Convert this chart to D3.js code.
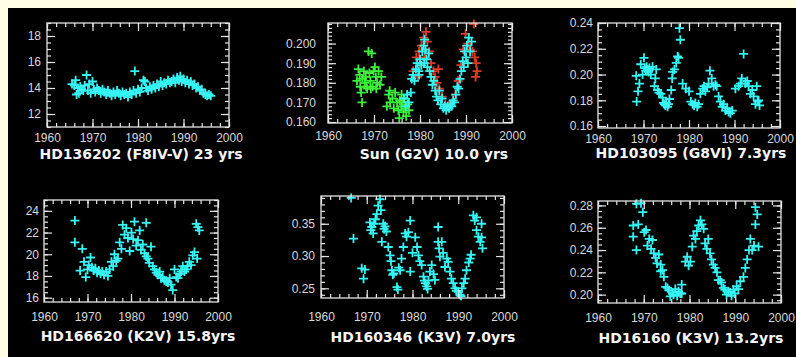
<!DOCTYPE html>
<html>
<head>
<meta charset="utf-8">
<script src="https://cdn.jsdelivr.net/npm/d3@7"></script>
<style>
  body { margin: 0; background: #fffde3; }
  svg { display: block; }
</style>
</head>
<body>
<script>
// x axis is the same for every star
var xTicks = [1960, 1970, 1980, 1990, 2000];

// [year, value]
var hd136202 = [[1965.5,14.3],[1966.0,14.2],[1966.3,14.6],[1966.5,13.5],[1966.8,14.0],[1967.0,13.6],[1967.3,14.1],[1967.6,13.9],[1968.0,13.8],[1968.3,14.2],[1968.7,15.0],[1969.0,13.8],[1969.3,14.3],[1969.6,13.6],[1970.0,14.5],[1970.3,13.9],[1970.6,13.7],[1971.0,14.0],[1971.4,13.8],[1971.8,13.6],[1972.2,13.9],[1972.6,13.7],[1973.0,13.5],[1973.4,13.8],[1973.8,13.6],[1974.2,13.4],[1974.6,13.7],[1975.0,13.5],[1975.4,13.8],[1975.8,13.6],[1976.2,13.4],[1976.6,13.7],[1977.0,13.5],[1977.4,13.6],[1977.8,13.3],[1978.2,13.7],[1978.6,13.5],[1979.0,13.8],[1979.3,15.3],[1979.6,13.6],[1980.0,13.9],[1980.4,13.7],[1980.8,14.0],[1981.2,14.6],[1981.5,14.5],[1981.8,14.0],[1982.2,13.8],[1982.6,14.1],[1983.0,13.9],[1983.4,14.2],[1983.8,14.0],[1984.2,14.3],[1984.6,14.1],[1985.0,14.5],[1985.4,14.2],[1985.8,14.4],[1986.2,14.3],[1986.6,14.6],[1987.0,14.4],[1987.4,14.5],[1987.8,14.7],[1988.2,14.4],[1988.6,14.8],[1989.0,14.6],[1989.3,14.9],[1989.6,14.5],[1990.0,14.7],[1990.4,14.4],[1990.8,14.6],[1991.2,14.3],[1991.6,14.5],[1992.0,14.2],[1992.4,14.3],[1992.8,14.0],[1993.2,14.1],[1993.6,13.8],[1994.0,13.9],[1994.4,13.6],[1994.8,13.5],[1995.2,13.4],[1995.6,13.5],[1996.0,13.4]];

var sunRed = [[1978.5,0.186],[1979.2,0.193],[1979.5,0.183],[1979.8,0.196],[1980.0,0.190],[1980.3,0.199],[1980.8,0.203],[1981.0,0.193],[1981.3,0.206],[1981.6,0.201],[1982.0,0.196],[1982.4,0.190],[1982.9,0.186],[1983.3,0.183],[1983.7,0.180],[1984.0,0.187],[1984.2,0.177],[1984.8,0.173],[1985.5,0.169],[1986.2,0.168],[1987.0,0.170],[1987.7,0.174],[1988.3,0.181],[1988.9,0.189],[1989.4,0.197],[1989.9,0.205],[1990.4,0.200],[1990.9,0.197],[1991.4,0.196],[1991.7,0.210],[1991.9,0.193],[1992.2,0.190],[1992.4,0.186],[1992.1,0.183]];

var sunGreen = [[1966.3,0.181],[1966.6,0.187],[1966.9,0.184],[1967.0,0.178],[1967.2,0.175],[1967.4,0.170],[1967.5,0.182],[1967.8,0.186],[1968.0,0.180],[1968.2,0.183],[1968.3,0.178],[1968.5,0.177],[1968.8,0.196],[1969.0,0.185],[1969.2,0.181],[1969.3,0.177],[1969.5,0.195],[1969.7,0.178],[1969.9,0.186],[1970.2,0.188],[1970.4,0.183],[1970.5,0.177],[1970.7,0.180],[1971.0,0.186],[1971.3,0.179],[1971.6,0.183],[1972.8,0.168],[1973.2,0.174],[1973.4,0.176],[1973.5,0.170],[1974.0,0.172],[1974.3,0.167],[1974.6,0.175],[1975.0,0.170],[1975.3,0.166],[1975.5,0.162],[1975.6,0.171],[1975.9,0.168],[1976.0,0.174],[1976.2,0.170],[1976.4,0.165],[1976.6,0.172],[1976.8,0.167],[1977.0,0.163],[1977.3,0.169],[1977.6,0.166]];

var sunCyan = [[1976.5,0.172],[1976.9,0.168],[1977.2,0.174],[1977.6,0.170],[1978.0,0.175],[1978.2,0.182],[1978.5,0.184],[1978.8,0.181],[1979.1,0.187],[1979.4,0.190],[1979.7,0.186],[1979.8,0.184],[1980.0,0.192],[1980.3,0.189],[1980.5,0.196],[1980.8,0.199],[1980.9,0.190],[1981.0,0.202],[1981.2,0.197],[1981.4,0.192],[1981.6,0.188],[1981.9,0.195],[1982.1,0.186],[1982.4,0.183],[1982.7,0.179],[1983.0,0.181],[1983.3,0.176],[1983.6,0.173],[1983.9,0.171],[1984.2,0.176],[1984.5,0.169],[1984.8,0.172],[1985.1,0.167],[1985.4,0.168],[1985.7,0.166],[1986.0,0.168],[1986.3,0.167],[1986.6,0.169],[1986.9,0.168],[1987.2,0.171],[1987.5,0.170],[1987.8,0.174],[1988.1,0.178],[1988.4,0.177],[1988.7,0.182],[1989.0,0.186],[1989.3,0.191],[1989.5,0.188],[1989.7,0.196],[1990.0,0.193],[1990.2,0.199],[1990.4,0.190],[1990.6,0.203],[1990.9,0.196],[1991.2,0.201]];

var hd103095 = [[1968.5,0.179],[1968.4,0.199],[1968.8,0.187],[1969.1,0.193],[1969.4,0.208],[1969.8,0.200],[1970.1,0.213],[1970.3,0.205],[1970.5,0.203],[1970.7,0.206],[1970.9,0.204],[1971.1,0.202],[1971.3,0.205],[1971.6,0.200],[1972.0,0.206],[1972.4,0.191],[1972.6,0.197],[1972.8,0.204],[1973.1,0.188],[1973.4,0.186],[1973.8,0.185],[1974.2,0.182],[1974.4,0.178],[1974.6,0.177],[1974.8,0.176],[1975.0,0.178],[1975.3,0.175],[1975.5,0.177],[1975.7,0.181],[1976.1,0.188],[1976.3,0.197],[1976.4,0.202],[1976.8,0.204],[1977.2,0.209],[1977.5,0.214],[1977.7,0.213],[1977.9,0.236],[1978.1,0.227],[1978.6,0.193],[1979.3,0.189],[1980.0,0.187],[1980.4,0.179],[1980.8,0.177],[1981.1,0.176],[1981.4,0.178],[1981.8,0.175],[1982.1,0.177],[1982.5,0.185],[1983.0,0.189],[1983.3,0.191],[1983.6,0.187],[1984.0,0.190],[1984.3,0.193],[1984.6,0.203],[1985.0,0.197],[1985.4,0.191],[1985.8,0.192],[1986.1,0.191],[1986.5,0.183],[1986.9,0.179],[1987.3,0.175],[1987.6,0.177],[1988.0,0.172],[1988.4,0.174],[1988.7,0.171],[1989.1,0.170],[1989.5,0.172],[1990.2,0.189],[1990.9,0.191],[1991.3,0.193],[1991.6,0.197],[1992.0,0.216],[1992.4,0.193],[1992.8,0.195],[1993.1,0.191],[1993.5,0.185],[1993.9,0.188],[1994.2,0.183],[1994.6,0.177],[1994.9,0.191],[1995.1,0.179],[1995.3,0.180],[1995.5,0.176]];

var hd166620 = [[1967.1,23.1],[1967.1,21.1],[1968.3,18.5],[1968.8,20.5],[1969.2,19.3],[1969.6,17.9],[1970.0,18.6],[1970.3,19.0],[1970.7,19.7],[1971.0,18.8],[1971.4,18.5],[1971.8,18.7],[1972.2,18.3],[1972.6,18.5],[1973.0,18.2],[1973.4,18.4],[1973.8,18.1],[1974.3,18.4],[1974.7,18.0],[1975.1,18.6],[1975.5,19.3],[1975.9,18.9],[1976.2,20.0],[1976.6,19.4],[1977.0,19.6],[1977.4,21.1],[1977.8,20.5],[1978.1,22.7],[1978.5,21.8],[1978.9,22.4],[1979.3,21.5],[1979.7,20.3],[1980.1,22.0],[1980.5,21.4],[1980.8,23.0],[1981.2,20.8],[1981.6,21.3],[1982.0,22.2],[1982.3,20.4],[1982.7,20.9],[1983.1,20.1],[1983.5,22.9],[1983.5,19.8],[1983.9,19.6],[1984.2,19.2],[1984.6,20.7],[1985.0,18.9],[1985.4,18.6],[1985.8,18.3],[1986.2,18.1],[1986.6,18.4],[1986.9,17.8],[1987.3,17.9],[1987.7,17.6],[1988.1,17.5],[1988.5,17.4],[1988.9,17.8],[1989.2,17.2],[1989.6,16.7],[1990.0,18.6],[1990.4,17.9],[1990.8,17.8],[1991.2,18.2],[1991.5,18.4],[1991.9,18.9],[1992.3,18.4],[1992.7,18.6],[1993.0,18.9],[1993.4,19.3],[1993.8,19.0],[1994.2,19.9],[1994.6,20.2],[1995.0,22.8],[1995.2,19.6],[1995.4,22.5],[1995.7,22.2]];

var hd160346 = [[1966.6,0.390],[1967.1,0.327],[1968.9,0.281],[1969.3,0.265],[1969.6,0.279],[1970.7,0.352],[1970.9,0.340],[1971.1,0.345],[1971.4,0.335],[1971.6,0.350],[1971.9,0.357],[1972.2,0.365],[1972.5,0.378],[1972.9,0.388],[1973.1,0.371],[1973.3,0.322],[1973.6,0.350],[1973.8,0.342],[1974.0,0.346],[1974.3,0.338],[1974.7,0.314],[1975.1,0.301],[1975.3,0.292],[1975.5,0.278],[1975.7,0.271],[1975.9,0.273],[1976.6,0.252],[1976.8,0.248],[1977.0,0.282],[1977.3,0.278],[1977.6,0.296],[1978.0,0.314],[1978.4,0.335],[1978.7,0.330],[1979.1,0.337],[1979.5,0.355],[1979.5,0.276],[1980.0,0.305],[1980.6,0.329],[1981.0,0.314],[1981.3,0.301],[1981.6,0.292],[1982.0,0.286],[1982.4,0.268],[1982.6,0.262],[1982.8,0.258],[1983.1,0.253],[1983.3,0.249],[1983.5,0.262],[1983.8,0.276],[1984.2,0.286],[1984.6,0.272],[1984.9,0.263],[1985.6,0.345],[1985.6,0.322],[1985.8,0.312],[1986.0,0.299],[1986.4,0.322],[1986.7,0.305],[1987.1,0.283],[1987.5,0.296],[1987.8,0.291],[1988.2,0.276],[1988.5,0.265],[1988.9,0.258],[1989.3,0.250],[1989.6,0.246],[1990.0,0.245],[1990.4,0.240],[1990.6,0.238],[1990.8,0.250],[1991.2,0.258],[1991.5,0.265],[1991.8,0.278],[1992.3,0.290],[1992.6,0.296],[1992.8,0.302],[1993.3,0.363],[1993.6,0.355],[1994.0,0.360],[1994.0,0.340],[1994.4,0.330],[1994.8,0.322],[1995.1,0.329],[1995.1,0.350],[1995.3,0.312]];

var hd16160 = [[1967.7,0.262],[1967.7,0.252],[1968.4,0.240],[1968.8,0.263],[1968.4,0.2815],[1969.4,0.282],[1969.8,0.274],[1970.1,0.256],[1970.5,0.258],[1970.8,0.244],[1971.2,0.250],[1971.6,0.241],[1971.9,0.249],[1972.2,0.237],[1972.6,0.233],[1972.9,0.228],[1973.3,0.236],[1973.7,0.227],[1973.7,0.221],[1974.1,0.222],[1974.4,0.216],[1974.8,0.207],[1975.2,0.206],[1975.5,0.204],[1975.8,0.1985],[1976.2,0.202],[1976.5,0.200],[1976.9,0.205],[1977.3,0.199],[1977.6,0.203],[1978.0,0.201],[1978.3,0.209],[1978.3,0.201],[1979.1,0.2296],[1979.5,0.234],[1979.8,0.226],[1980.2,0.2296],[1980.6,0.243],[1980.9,0.253],[1981.3,0.250],[1981.6,0.257],[1982.0,0.262],[1982.4,0.2667],[1982.7,0.263],[1983.1,0.259],[1983.4,0.246],[1983.8,0.241],[1984.1,0.250],[1984.5,0.237],[1984.8,0.2316],[1985.2,0.227],[1985.6,0.224],[1986.0,0.220],[1986.3,0.213],[1986.7,0.213],[1987.0,0.211],[1987.4,0.206],[1987.7,0.2045],[1988.1,0.200],[1988.5,0.203],[1988.9,0.202],[1989.2,0.199],[1989.6,0.2045],[1989.9,0.201],[1990.3,0.2075],[1990.7,0.205],[1991.1,0.212],[1991.8,0.216],[1992.2,0.224],[1992.6,0.2316],[1993.0,0.240],[1993.3,0.250],[1993.7,0.240],[1994.1,0.244],[1994.4,0.2785],[1994.8,0.272],[1994.4,0.263],[1995.1,0.243]];

// y tick labels
var ticks136202 = [12, 14, 16, 18];
var ticksSun = [0.16, 0.17, 0.18, 0.19, 0.20];
var ticks103095 = [0.16, 0.18, 0.20, 0.22, 0.24];
var ticks166620 = [16, 18, 20, 22, 24];
var ticks160346 = [0.25, 0.30, 0.35];
var ticks16160 = [0.20, 0.22, 0.24, 0.26, 0.28];

var titles = ["HD136202 (F8IV-V) 23 yrs", "Sun (G2V) 10.0 yrs", "HD103095 (G8VI) 7.3yrs",
              "HD166620 (K2V) 15.8yrs", "HD160346 (K3V) 7.0yrs", "HD16160 (K3V) 13.2yrs"];

var cyan = "#36f4f4", green = "#3cf03c", red = "#e23a24";

var panels = [
  {series: [[hd136202, cyan]], yDomain: [11, 19], yTicks: ticks136202, yMinor: 0.5, fmt: "d",
   box: [47, 229, 23, 127], yGap: 6, labelTop: 133, titleX: 141, titleY: 159},
  {series: [[sunRed, red], [sunGreen, green], [sunCyan, cyan]], yDomain: [0.1595, 0.2105], yTicks: ticksSun, yMinor: 0.002, fmt: ".3f",
   box: [328, 512, 23, 123], yGap: 12, labelTop: 131, titleX: 434, titleY: 159},
  {series: [[hd103095, cyan]], yDomain: [0.1585, 0.24], yTicks: ticks103095, yMinor: 0.005, fmt: ".2f",
   box: [598, 780, 23, 128], yGap: 5, labelTop: 134, titleX: 691, titleY: 158},
  {series: [[hd166620, cyan]], yDomain: [15.6, 25], yTicks: ticks166620, yMinor: 0.5, fmt: "d",
   box: [44, 218, 200, 302], yGap: 5, labelTop: 312, titleX: 138, titleY: 341},
  {series: [[hd160346, cyan]], yDomain: [0.235, 0.393], yTicks: ticks160346, yMinor: 0.01, fmt: ".2f",
   box: [321, 504, 196, 298], yGap: 6, labelTop: 312, titleX: 423, titleY: 342},
  {series: [[hd16160, cyan]], yDomain: [0.1925, 0.284], yTicks: ticks16160, yMinor: 0.005, fmt: ".2f",
   box: [598, 781, 201, 303], yGap: 5, labelTop: 313, titleX: 691, titleY: 343}
];

var W = 796, H = 357;
var svg = d3.select("body").append("svg").attr("width", W).attr("height", H);
svg.append("rect").attr("width", W).attr("height", H).attr("fill", "#fffde3");
svg.append("rect").attr("x", 8).attr("y", 8).attr("width", W - 8).attr("height", H - 8).attr("fill", "#000");

var axisColor = "#e4e4e4";
var cross = "M-4.5,0H4.5M0,-4.5V4.5";

function minorTicks(d0, d1, step) {
  var out = [];
  for (var v = Math.ceil(d0 / step - 1e-9) * step; v <= d1 + 1e-9; v += step) out.push(+v.toFixed(6));
  return out;
}

panels.forEach(function(p, i) {
  var x0 = p.box[0], x1 = p.box[1], y0 = p.box[2], y1 = p.box[3];
  var x = d3.scaleLinear([1960, 2000], [x0, x1]);
  var y = d3.scaleLinear(p.yDomain, [y1, y0]);
  var g = svg.append("g");
  var xMinor = minorTicks(1960, 2000, 2);
  var yMinor = minorTicks(p.yDomain[0], p.yDomain[1], p.yMinor);

  // points first, frame on top
  p.series.forEach(function(s) {
    g.append("g").selectAll("path")
      .data(s[0])
      .enter().append("path")
      .attr("d", cross)
      .attr("transform", function(d) { return "translate(" + x(d[0]) + "," + y(d[1]) + ")"; })
      .attr("stroke", s[1])
      .attr("stroke-width", 1.8)
      .attr("fill", "none");
  });

  g.append("rect")
    .attr("x", x0).attr("y", y0).attr("width", x1 - x0).attr("height", y1 - y0)
    .attr("fill", "none").attr("stroke", axisColor).attr("stroke-width", 1.3);

  // bottom axis with labels
  g.append("g").attr("transform", "translate(0," + y1 + ")")
    .call(d3.axisBottom(x).tickValues(xMinor).tickSize(-4).tickFormat(""));
  g.append("g").attr("class", "lab").attr("transform", "translate(0," + y1 + ")")
    .call(d3.axisBottom(x).tickValues(xTicks).tickSize(-8).tickPadding(p.labelTop - y1).tickFormat(d3.format("d")));
  // top axis
  g.append("g").attr("transform", "translate(0," + y0 + ")")
    .call(d3.axisTop(x).tickValues(xMinor).tickSize(-4).tickFormat(""));
  g.append("g").attr("transform", "translate(0," + y0 + ")")
    .call(d3.axisTop(x).tickValues(xTicks).tickSize(-8).tickFormat(""));
  // left axis with labels
  g.append("g").attr("transform", "translate(" + x0 + ",0)")
    .call(d3.axisLeft(y).tickValues(yMinor).tickSize(-4).tickFormat(""));
  g.append("g").attr("class", "lab").attr("transform", "translate(" + x0 + ",0)")
    .call(d3.axisLeft(y).tickValues(p.yTicks).tickSize(-8).tickPadding(p.yGap).tickFormat(d3.format(p.fmt)));
  // right axis
  g.append("g").attr("transform", "translate(" + x1 + ",0)")
    .call(d3.axisRight(y).tickValues(yMinor).tickSize(-4).tickFormat(""));
  g.append("g").attr("transform", "translate(" + x1 + ",0)")
    .call(d3.axisRight(y).tickValues(p.yTicks).tickSize(-8).tickFormat(""));

  g.append("text")
    .attr("x", p.titleX).attr("y", p.titleY)
    .attr("text-anchor", "middle")
    .attr("fill", "#f4f4f4")
    .style("font-family", "DejaVu Sans")
    .style("font-weight", "bold")
    .style("font-size", "14px")
    .text(titles[i]);
});

svg.selectAll(".domain").remove();
svg.selectAll(".tick line").attr("stroke", axisColor).attr("stroke-width", 1.2);
svg.selectAll(".lab text")
  .attr("fill", "#d8d8d8")
  .style("font-family", "Liberation Sans")
  .style("font-size", "12px");
</script>
</body>
</html>
